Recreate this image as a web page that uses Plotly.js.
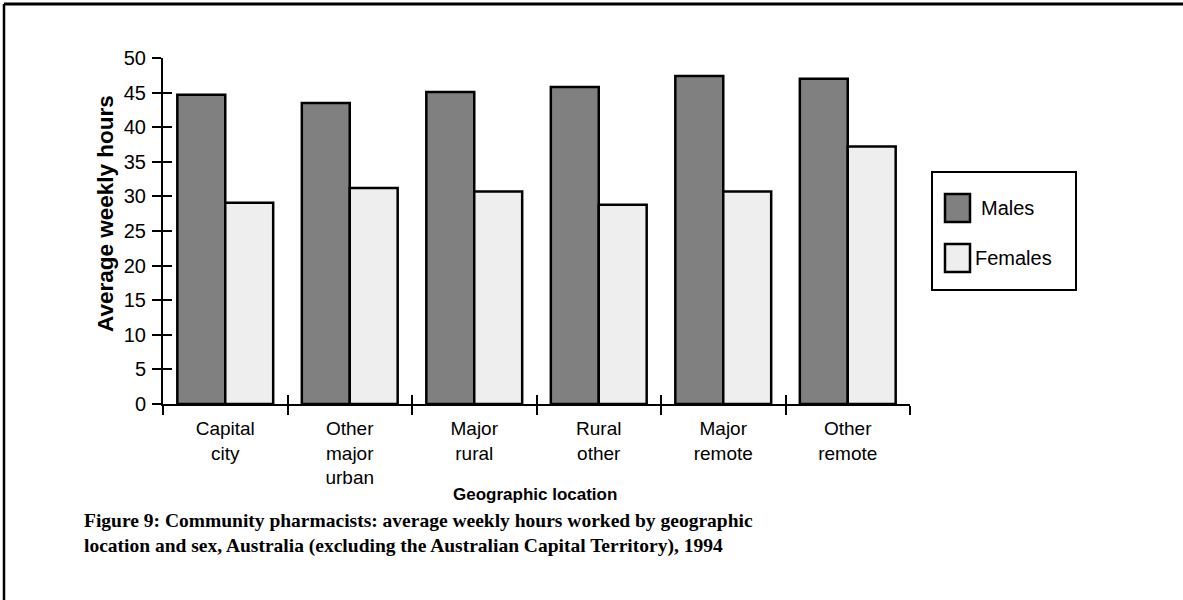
<!DOCTYPE html>
<html>
<head>
<meta charset="utf-8">
<script src="https://cdn.plot.ly/plotly-3.0.1.min.js"></script>
<style>html,body{margin:0;padding:0;background:#fff;}#chart{width:1183px;height:600px;}</style>
</head>
<body>
<div id="chart"></div>
<script>
// ---- data ----
const categories = ["Capital city", "Other major urban", "Major rural", "Rural other", "Major remote", "Other remote"];
const tickLabels = ["Capital<br>city", "Other<br>major<br>urban", "Major<br>rural", "Rural<br>other", "Major<br>remote", "Other<br>remote"];
const seriesNames = ["Males", "Females"];
const males = [44.7, 43.5, 45.1, 45.8, 47.4, 47.0];
const females = [29.1, 31.2, 30.7, 28.8, 30.7, 37.2];
const yTitle = "Average weekly hours";
const xTitle = "Geographic location";
const caption = "Figure 9: Community pharmacists: average weekly hours worked by geographic<br>location and sex, Australia (excluding the Australian Capital Territory), 1994";

// ---- geometry helpers ----
const W = 1183, H = 600;
const mL = 163, mR = 273, mT = 58, mB = 196;
const pw = W - mL - mR, ph = H - mT - mB;
const px = x => (x - mL) / pw;
const py = y => (H - mB - y) / ph;

const sans = "Liberation Sans, Arial, sans-serif";
const serif = "Liberation Serif, Times New Roman, serif";
const colors = ["#808080", "#eeeeee"];

const traces = [
  {type: "bar", name: seriesNames[0], x: categories, y: males,
   marker: {color: colors[0], line: {color: "#000", width: 2.5}}, showlegend: false, hoverinfo: "x+y"},
  {type: "bar", name: seriesNames[1], x: categories, y: females,
   marker: {color: colors[1], line: {color: "#000", width: 2.5}}, showlegend: false, hoverinfo: "x+y"},
  // empty helper trace so the overlay axes (inner half of the crossing ticks) get drawn
  {type: "scatter", mode: "markers", x: [], y: [], xaxis: "x2", yaxis: "y2", showlegend: false, hoverinfo: "skip"}
];

const boundaries = [];
for (let i = 0; i <= categories.length; i++) boundaries.push(i - 0.5);

const shapes = [
  {type: "line", xref: "paper", yref: "paper", x0: px(4), x1: px(W), y0: py(4), y1: py(4), line: {color: "#000", width: 3}},
  {type: "line", xref: "paper", yref: "paper", x0: px(4), x1: px(4), y0: py(4), y1: py(H), line: {color: "#000", width: 2.5}},
  {type: "rect", xref: "paper", yref: "paper", x0: px(932), x1: px(1076), y0: py(172), y1: py(290), line: {color: "#000", width: 2}, fillcolor: "rgba(0,0,0,0)"},
  {type: "rect", xref: "paper", yref: "paper", x0: px(945), x1: px(970), y0: py(194), y1: py(222), line: {color: "#000", width: 2.5}, fillcolor: colors[0]},
  {type: "rect", xref: "paper", yref: "paper", x0: px(945), x1: px(970), y0: py(244), y1: py(272), line: {color: "#000", width: 2.5}, fillcolor: colors[1]}
];

const annotations = [
  {xref: "paper", yref: "paper", x: px(979), y: py(208), xanchor: "left", yanchor: "middle", showarrow: false,
   text: seriesNames[0], font: {family: sans, size: 20, color: "#000"}},
  {xref: "paper", yref: "paper", x: px(973), y: py(258), xanchor: "left", yanchor: "middle", showarrow: false,
   text: seriesNames[1], font: {family: sans, size: 20, color: "#000"}},
  {xref: "paper", yref: "paper", x: px(105), y: py(214), xanchor: "center", yanchor: "middle", textangle: -90, showarrow: false,
   text: "<b>" + yTitle + "</b>", font: {family: sans, size: 22.5, color: "#000"}},
  {xref: "paper", yref: "paper", x: px(535), y: py(494), xanchor: "center", yanchor: "middle", showarrow: false,
   text: "<b>" + xTitle + "</b>", font: {family: sans, size: 17, color: "#000"}},
  {xref: "paper", yref: "paper", x: px(82), y: py(533), xanchor: "left", yanchor: "middle", align: "left", showarrow: false,
   text: "<b>" + caption + "</b>", font: {family: serif, size: 19.5, color: "#000"}}
];

const layout = {
  width: W, height: H,
  margin: {l: mL, r: mR, t: mT, b: mB, pad: 0},
  paper_bgcolor: "#fff", plot_bgcolor: "#fff",
  barmode: "group", bargap: 0.23, bargroupgap: 0,
  showlegend: false,
  xaxis: {
    type: "category", categoryorder: "array", categoryarray: categories,
    tickmode: "array", tickvals: categories, ticktext: tickLabels,
    tickson: "boundaries", ticks: "outside", ticklen: 9, tickwidth: 2, tickcolor: "#000",
    showline: true, linecolor: "#000", linewidth: 2, showgrid: false, zeroline: false,
    tickfont: {family: sans, size: 19, color: "#000"},
    ticklabelstandoff: 6,
    range: [-0.5, categories.length - 0.5], fixedrange: true
  },
  yaxis: {
    range: [0, 50], dtick: 5, tick0: 0,
    ticks: "outside", ticklen: 9, tickwidth: 2, tickcolor: "#000",
    showline: true, linecolor: "#000", linewidth: 2, showgrid: false, zeroline: false,
    tickfont: {family: sans, size: 20, color: "#000"},
    ticklabelstandoff: 2,
    fixedrange: true
  },
  xaxis2: {
    overlaying: "x", anchor: "y2", side: "bottom", type: "linear",
    range: [-0.5, categories.length - 0.5],
    tickmode: "array", tickvals: boundaries, ticks: "inside", ticklen: 9, tickwidth: 2, tickcolor: "#000",
    showticklabels: false, showline: false, showgrid: false, zeroline: false, fixedrange: true
  },
  yaxis2: {
    overlaying: "y", anchor: "x2", side: "left", type: "linear",
    range: [0, 50], dtick: 5, tick0: 0,
    ticks: "inside", ticklen: 9, tickwidth: 2, tickcolor: "#000",
    showticklabels: false, showline: false, showgrid: false, zeroline: false, fixedrange: true
  },
  shapes: shapes,
  annotations: annotations
};

Plotly.newPlot("chart", traces, layout, {displayModeBar: false, staticPlot: true});
</script>
</body>
</html>
